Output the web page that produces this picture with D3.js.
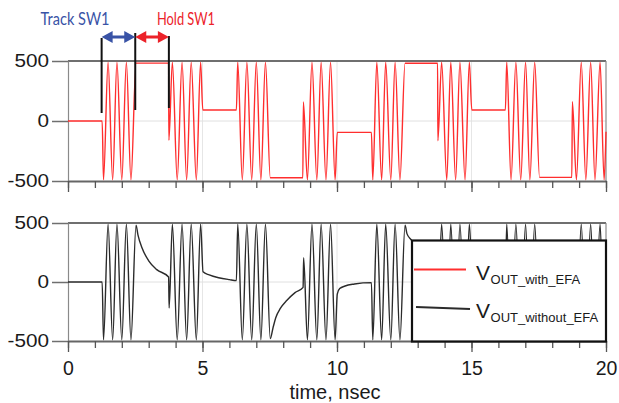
<!DOCTYPE html>
<html>
<head>
<meta charset="utf-8">
<script src="https://cdn.jsdelivr.net/npm/d3@7"></script>
<style>
  html, body { margin: 0; padding: 0; background: #fff; }
  svg { display: block; }
</style>
</head>
<body>
<svg id="chart" width="619" height="403"></svg>
<script>
// ---- data ---------------------------------------------------------------
// Time axis (ns): minor ticks, labelled ticks and faint grid positions
const minorTimes = [0,1,2,3,4,5,6,7,8,9,10,11,12,13,14,15,16,17,18,19,20];
const timeLabels = [0, 5, 10, 15, 20];
const gridTimes = [5, 10, 15];
// Output voltage axis (mV)
const voltTicks = [-500, 0, 500];

// Sample/hold output with the error-feedback amplifier: [time ns, mV]
const vOutWithEfa = [
  [0,0],[1.27,0],
  [1.32,-490],[1.49,490],[1.66,-490],[1.82,490],[2.0,-490],[2.17,490],[2.34,-490],[2.53,482],
  [3.74,482],[3.75,-160],
  [3.88,490],[4.06,-490],[4.24,490],[4.41,-490],[4.58,490],[4.77,-490],[4.93,490],[5.01,92],
  [6.26,92],
  [6.31,490],[6.48,-490],[6.65,490],[6.83,-490],[7.0,490],[7.17,-490],[7.34,490],[7.52,-473],
  [8.73,-473],[8.75,158],
  [8.9,-490],[9.07,490],[9.25,-490],[9.41,490],[9.59,-490],[9.76,490],[9.93,-490],[10.01,-95],
  [11.28,-95],
  [11.33,-490],[11.48,490],[11.66,-490],[11.81,490],[12.0,-490],[12.16,490],[12.34,-490],[12.53,481],
  [13.74,481],[13.75,-165],
  [13.89,490],[14.08,-490],[14.23,490],[14.41,-490],[14.57,490],[14.76,-490],[14.92,490],[15.01,92],
  [16.26,92],
  [16.31,490],[16.47,-490],[16.65,490],[16.83,-490],[17.01,490],[17.17,-490],[17.35,490],[17.53,-470],
  [18.73,-470],[18.75,160],
  [18.9,-490],[19.08,490],[19.25,-490],[19.43,490],[19.59,-490],[19.78,490],[19.93,-490],[20,-90]
];

// Same output without the amplifier: held values droop between track phases
const vOutWithoutEfa = [
  [0,0],[1.27,0],
  [1.32,-490],[1.49,490],[1.66,-490],[1.82,490],[2.0,-490],[2.17,490],[2.34,-490],[2.53,482],
  [2.6,400],[2.75,290],[3.0,180],[3.3,105],[3.74,42],[3.76,-220],
  [3.88,490],[4.06,-490],[4.24,490],[4.41,-490],[4.58,490],[4.77,-490],[4.93,490],[5.02,86],
  [5.25,60],[5.6,36],[6.0,20],[6.26,12],
  [6.31,490],[6.48,-490],[6.65,490],[6.83,-490],[7.0,490],[7.17,-490],[7.34,490],[7.52,-480],
  [7.62,-390],[7.72,-305],[7.9,-222],[8.14,-155],[8.44,-90],[8.74,-45],[8.76,205],
  [8.9,-490],[9.07,490],[9.25,-490],[9.41,490],[9.59,-490],[9.76,490],[9.93,-490],[10.01,-102],
  [10.1,-56],[10.3,-34],[10.65,-17],[11.28,-5],
  [11.33,-490],[11.48,490],[11.66,-490],[11.81,490],[12.0,-490],[12.16,490],[12.34,-490],[12.53,481],
  [12.6,410],[12.78,350],[13.0,225],[13.3,125],[13.74,45],[13.76,-220],
  [13.89,490],[14.08,-490],[14.23,490],[14.41,-490],[14.57,490],[14.76,-490],[14.92,490],[15.02,86],
  [15.25,60],[15.6,36],[16.0,20],[16.26,12],
  [16.31,490],[16.47,-490],[16.65,490],[16.83,-490],[17.01,490],[17.17,-490],[17.35,490],[17.53,-480],
  [17.62,-390],[17.72,-305],[17.9,-222],[18.14,-155],[18.44,-90],[18.74,-45],[18.76,205],
  [18.9,-490],[19.08,490],[19.25,-490],[19.43,490],[19.59,-490],[19.78,490],[19.93,-490],[20,-90]
];

const legendSubscripts = ["OUT_with_EFA", "OUT_without_EFA"];
const seriesColors = ["#ff2e2e", "#2b2b2b"];

// Switch phases marked above the first panel (ns)
const phaseEdges = [1.25, 2.5, 3.75];
const phaseNames = ["Track SW1", "Hold SW1"];
const phaseColors = ["#3953a6", "#ec2229"];

// ---- drawing ------------------------------------------------------------
const svg = d3.select("#chart");
const FONT = "'Liberation Sans', Arial, Helvetica, sans-serif";

const x = d3.scaleLinear().domain([0, 20]).range([68, 606]);

const panels = [
  { data: vOutWithEfa, color: seriesColors[0],
    y: d3.scaleLinear().domain([-500, 500]).range([181, 61]), timeText: false },
  { data: vOutWithoutEfa, color: seriesColors[1],
    y: d3.scaleLinear().domain([-500, 500]).range([341, 223]), timeText: true }
];

panels.forEach(p => {
  const g = svg.append("g");
  const y = p.y;

  // faint grid
  g.selectAll("line.vgrid").data(gridTimes).join("line")
    .attr("x1", d => x(d)).attr("x2", d => x(d))
    .attr("y1", y(500)).attr("y2", y(-500))
    .attr("stroke", "#e6e6e6").attr("stroke-width", 1);
  g.append("line")
    .attr("x1", x(0)).attr("x2", x(20))
    .attr("y1", y(0)).attr("y2", y(0))
    .attr("stroke", "#e0e0e0").attr("stroke-width", 1);

  // frame: top edge and right edge
  g.append("line")
    .attr("x1", x(0)).attr("x2", x(20))
    .attr("y1", y(500)).attr("y2", y(500))
    .attr("stroke", "#6f6f6f").attr("stroke-width", 1.8);
  g.append("line")
    .attr("x1", x(20)).attr("x2", x(20))
    .attr("y1", y(500)).attr("y2", y(-500))
    .attr("stroke", "#8a8a8a").attr("stroke-width", 1.2);

  // left axis
  const yAxis = g.append("g")
    .attr("transform", `translate(${x(0)},0)`)
    .call(d3.axisLeft(y).tickValues(voltTicks).tickSize(16).tickSizeOuter(0)
      .tickFormat(d => String(d)));
  yAxis.select(".domain").attr("stroke", "#8a8a8a").attr("stroke-width", 1.2);
  yAxis.selectAll(".tick line").attr("stroke", "#6f6f6f").attr("stroke-width", 1.5);
  yAxis.selectAll(".tick text")
    .attr("x", -17).attr("font-family", FONT).attr("font-size", 18.5)
    .attr("fill", "#1a1a1a").attr("transform", "scale(1.12,1)");

  // bottom axis: minor ticks with the axis line, then labelled ticks
  const xMinor = g.append("g")
    .attr("transform", `translate(0,${y(-500)})`)
    .call(d3.axisBottom(x).tickValues(minorTimes).tickSize(7).tickSizeOuter(0).tickFormat(""));
  xMinor.select(".domain").attr("stroke", "#666").attr("stroke-width", 1.8);
  xMinor.selectAll(".tick line").attr("stroke", "#555").attr("stroke-width", 1.3);

  const xMajor = g.append("g")
    .attr("transform", `translate(0,${y(-500)})`)
    .call(d3.axisBottom(x).tickValues(timeLabels).tickSize(11).tickPadding(9)
      .tickFormat(p.timeText ? (d => String(d)) : ""));
  xMajor.select(".domain").remove();
  xMajor.selectAll(".tick line").attr("stroke", "#555").attr("stroke-width", 1.3);
  xMajor.selectAll(".tick text")
    .attr("font-family", FONT).attr("font-size", 19.5).attr("fill", "#1a1a1a");

  // waveform
  const line = d3.line()
    .x(d => x(d[0]))
    .y(d => y(d[1]))
    .curve(d3.curveMonotoneX);
  g.append("path")
    .datum(p.data)
    .attr("d", line)
    .attr("fill", "none")
    .attr("stroke", p.color)
    .attr("stroke-width", 1.4)
    .attr("stroke-linejoin", "round");
});

// axis title
svg.append("text")
  .attr("x", 335).attr("y", 399)
  .attr("text-anchor", "middle")
  .attr("font-family", FONT).attr("font-size", 20)
  .attr("fill", "#1a1a1a")
  .text("time, nsec");

// ---- phase annotation ---------------------------------------------------
const ann = svg.append("g");
const arrowY = 37;
const markerTops = [38, 33, 36];
const markerBottoms = [113, 110, 108];
phaseEdges.forEach((t, i) => {
  ann.append("line")
    .attr("x1", x(t)).attr("x2", x(t))
    .attr("y1", markerTops[i]).attr("y2", markerBottoms[i])
    .attr("stroke", "#111").attr("stroke-width", 2);
});

function doubleArrow(x1, x2, yc, color) {
  const head = 11, half = 6, shaft = 1.6;
  const pts = [
    [x1, yc], [x1 + head, yc - half], [x1 + head, yc - shaft],
    [x2 - head, yc - shaft], [x2 - head, yc - half], [x2, yc],
    [x2 - head, yc + half], [x2 - head, yc + shaft],
    [x1 + head, yc + shaft], [x1 + head, yc + half]
  ];
  ann.append("path")
    .attr("d", "M" + pts.map(p => p.join(",")).join("L") + "Z")
    .attr("fill", color);
}
doubleArrow(x(phaseEdges[0]), x(phaseEdges[1]), arrowY, phaseColors[0]);
doubleArrow(x(phaseEdges[1]), x(phaseEdges[2]), arrowY, phaseColors[1]);

const phaseTextX = [40.5, 157];
const phaseTextLen = [69, 58];
phaseNames.forEach((name, i) => {
  ann.append("text")
    .attr("x", phaseTextX[i]).attr("y", 24.5)
    .attr("font-family", "Lato, 'Open Sans', sans-serif")
    .attr("font-size", 16.5)
    .attr("fill", phaseColors[i])
    .attr("textLength", phaseTextLen[i])
    .attr("lengthAdjust", "spacingAndGlyphs")
    .text(name);
});

// ---- legend -------------------------------------------------------------
const leg = svg.append("g");
leg.append("rect")
  .attr("x", 412).attr("y", 240.5)
  .attr("width", 194).attr("height", 101)
  .attr("fill", "#fff")
  .attr("stroke", "#111").attr("stroke-width", 2.2);

const legendRowY = [280, 318];
const legendLineY = [[269.5, 269.5], [307, 309]];
const legendLineX = [[414, 466], [416, 470]];
legendSubscripts.forEach((sub, i) => {
  leg.append("line")
    .attr("x1", legendLineX[i][0]).attr("x2", legendLineX[i][1])
    .attr("y1", legendLineY[i][0]).attr("y2", legendLineY[i][1])
    .attr("stroke", seriesColors[i]).attr("stroke-width", 2);
  const t = leg.append("text")
    .attr("x", 476).attr("y", legendRowY[i])
    .attr("font-family", FONT).attr("fill", "#1a1a1a");
  t.append("tspan").attr("font-size", 21).text("V");
  t.append("tspan").attr("font-size", 13).attr("dx", 0.5).attr("dy", 4).text(sub);
});
</script>
</body>
</html>
